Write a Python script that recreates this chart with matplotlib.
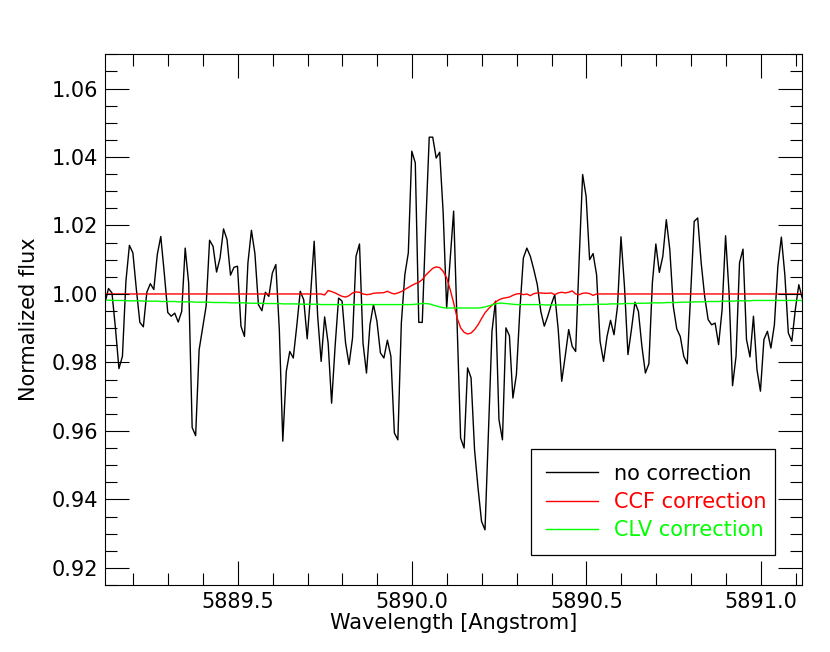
import numpy as np
import matplotlib
matplotlib.use("Agg")
import matplotlib.pyplot as plt
from matplotlib.patches import Rectangle
from matplotlib.ticker import MultipleLocator

# wavelength grid of the spectrum (Angstrom), 0.01 A sampling
wave_start = 5889.119
wave_step = 0.01
n_pix = 201
wave = wave_start + wave_step * np.arange(n_pix)

# no correction
flux_raw = [
    0.9974, 1.0016, 1.0003, 0.9900, 0.9782, 0.9818, 1.0037, 1.0142, 1.0120, 1.0013,
    0.9917, 0.9904, 1.0005, 1.0030, 1.0013, 1.0115, 1.0168, 1.0061, 0.9946, 0.9935,
    0.9944, 0.9918, 0.9949, 1.0134, 1.0032, 0.9610, 0.9586, 0.9837, 0.9901, 0.9964,
    1.0157, 1.0139, 1.0064, 1.0105, 1.0190, 1.0159, 1.0055, 1.0078, 1.0081, 0.9906,
    0.9876, 1.0091, 1.0186, 1.0118, 0.9969, 0.9951, 1.0005, 0.9993, 1.0061, 1.0086,
    0.9896, 0.9570, 0.9774, 0.9832, 0.9813, 0.9906, 1.0008, 0.9983, 0.9869, 1.0003,
    1.0154, 0.9935, 0.9803, 0.9933, 0.9857, 0.9681, 0.9847, 0.9988, 0.9979, 0.9857,
    0.9794, 0.9871, 1.0110, 1.0146, 0.9857, 0.9769, 0.9910, 0.9969, 0.9920, 0.9828,
    0.9813, 0.9865, 0.9818, 0.9594, 0.9574, 0.9915, 1.0056, 1.0120, 1.0417, 1.0383,
    0.9917, 0.9917, 1.0200, 1.0458, 1.0458, 1.0397, 1.0414, 1.0237, 0.9959, 1.0100,
    1.0242, 0.9915, 0.9579, 0.9550, 0.9784, 0.9755, 0.9545, 0.9433, 0.9336, 0.9311,
    0.9604, 0.9891, 0.9979, 0.9633, 0.9574, 0.9901, 0.9878, 0.9696, 0.9764, 0.9954,
    1.0105, 1.0134, 1.0110, 1.0071, 1.0027, 0.9949, 0.9906, 0.9935, 0.9969, 0.9998,
    0.9896, 0.9745, 0.9818, 0.9896, 0.9847, 0.9832, 1.0100, 1.0349, 1.0285, 1.0100,
    1.0118, 1.0056, 0.9862, 0.9803, 0.9876, 0.9923, 0.9881, 0.9964, 1.0167, 1.0022,
    0.9823, 0.9896, 0.9976, 0.9949, 0.9847, 0.9769, 0.9796, 1.0032, 1.0146, 1.0063,
    1.0110, 1.0217, 1.0130, 0.9964, 0.9898, 0.9876, 0.9818, 0.9796, 1.0003, 1.0212,
    1.0222, 1.0091, 0.9993, 0.9925, 0.9910, 0.9915, 0.9852, 0.9954, 1.0170, 1.0003,
    0.9732, 0.9818, 1.0091, 1.0131, 0.9867, 0.9816, 0.9935, 0.9779, 0.9716, 0.9867,
    0.9891, 0.9842, 0.9910, 1.0081, 1.0166, 1.0056, 0.9886, 0.9862, 0.9954, 1.0027,
    0.9988,
]

# CCF correction
flux_ccf = [1.0000] * 63 + [
    0.9997, 1.0010, 1.0007, 1.0003, 0.9998, 0.9993, 0.9991, 0.9995, 1.0003, 1.0006,
    1.0005, 1.0000, 0.9998, 0.9999, 1.0002, 1.0003, 1.0003, 1.0004, 1.0008, 1.0003,
    1.0000, 1.0003, 1.0007, 1.0013, 1.0019, 1.0025, 1.0030, 1.0034, 1.0042, 1.0055,
    1.0065, 1.0075, 1.0079, 1.0077, 1.0066, 1.0047, 1.0013, 0.9974, 0.9930, 0.9901,
    0.9888, 0.9883, 0.9886, 0.9896, 0.9910, 0.9928, 0.9945, 0.9957, 0.9967, 0.9976,
    0.9983, 0.9987, 0.9989, 0.9991, 0.9996, 1.0000, 1.0001, 0.9998, 1.0000, 0.9995,
    1.0001, 1.0003, 1.0003, 1.0002, 1.0002, 1.0003, 0.9998, 1.0003, 1.0005, 1.0003,
    1.0005, 1.0009, 1.0000, 0.9998, 1.0002, 1.0003, 1.0001, 0.9996,
] + [1.0000] * 60

# CLV correction
flux_clv = [
    0.9982, 0.9982, 0.9981, 0.9981, 0.9981, 0.9981, 0.9980, 0.9980, 0.9980, 0.9980,
    0.9980, 0.9979, 0.9979, 0.9979, 0.9979, 0.9979, 0.9978, 0.9978, 0.9978, 0.9978,
    0.9978, 0.9977, 0.9977, 0.9977, 0.9977, 0.9977, 0.9976, 0.9976, 0.9976, 0.9976,
    0.9976, 0.9975, 0.9975, 0.9975, 0.9975, 0.9975, 0.9974, 0.9974, 0.9974, 0.9974,
    0.9974, 0.9973, 0.9973, 0.9973, 0.9973, 0.9973, 0.9972, 0.9972, 0.9972, 0.9972,
    0.9972, 0.9971, 0.9971, 0.9971, 0.9971, 0.9971, 0.9970, 0.9970, 0.9970, 0.9970,
    0.9970, 0.9970, 0.9969, 0.9969, 0.9969, 0.9969, 0.9969, 0.9969, 0.9969, 0.9969,
    0.9969, 0.9969, 0.9969, 0.9969, 0.9969, 0.9969, 0.9969, 0.9969, 0.9969, 0.9969,
    0.9969, 0.9969, 0.9969, 0.9969, 0.9969, 0.9969, 0.9969, 0.9969, 0.9969, 0.9970,
    0.9971, 0.9972, 0.9972, 0.9971, 0.9968, 0.9965, 0.9962, 0.9960, 0.9959, 0.9959,
    0.9959, 0.9959, 0.9959, 0.9959, 0.9959, 0.9959, 0.9959, 0.9959, 0.9960, 0.9962,
    0.9965, 0.9968, 0.9971, 0.9973, 0.9973, 0.9972, 0.9971, 0.9970, 0.9969, 0.9969,
    0.9969, 0.9969, 0.9969, 0.9969, 0.9969, 0.9969, 0.9968, 0.9968, 0.9968, 0.9968,
    0.9968, 0.9968, 0.9968, 0.9968, 0.9968, 0.9968, 0.9968, 0.9969, 0.9969, 0.9969,
    0.9969, 0.9970, 0.9970, 0.9970, 0.9970, 0.9971, 0.9971, 0.9971, 0.9971, 0.9972,
    0.9972, 0.9972, 0.9972, 0.9973, 0.9973, 0.9973, 0.9973, 0.9974, 0.9974, 0.9974,
    0.9974, 0.9975, 0.9975, 0.9975, 0.9975, 0.9976, 0.9976, 0.9976, 0.9976, 0.9977,
    0.9977, 0.9977, 0.9977, 0.9978, 0.9978, 0.9978, 0.9978, 0.9979, 0.9979, 0.9979,
    0.9979, 0.9980, 0.9980, 0.9980, 0.9980, 0.9980, 0.9981, 0.9981, 0.9981, 0.9981,
    0.9981, 0.9981, 0.9981, 0.9981, 0.9981, 0.9981, 0.9981, 0.9981, 0.9981, 0.9981,
    0.9981,
]

series = [
    ("no correction", flux_raw, "black"),
    ("CCF correction", flux_ccf, "#ff0000"),
    ("CLV correction", flux_clv, "#00ff00"),
]

plt.rcParams["font.family"] = "DejaVu Sans"
plt.rcParams["font.size"] = 15

fig = plt.figure(figsize=(8.3, 6.52), dpi=100)
ax = fig.add_axes([0.1265, 0.1028, 0.8401, 0.8139])

for name, flux, col in series:
    ax.plot(wave, flux, color=col, lw=1.0, label=name)

ax.set_xlim(5889.119, 5891.119)
ax.set_ylim(0.915, 1.070)

ax.xaxis.set_major_locator(MultipleLocator(0.5))
ax.xaxis.set_minor_locator(MultipleLocator(0.1))
ax.yaxis.set_major_locator(MultipleLocator(0.02))
ax.yaxis.set_minor_locator(MultipleLocator(0.005))
ax.xaxis.set_major_formatter(plt.FormatStrFormatter("%.1f"))
ax.yaxis.set_major_formatter(plt.FormatStrFormatter("%.2f"))

ax.tick_params(which="both", direction="in", top=True, right=True, width=0.8,
               labelsize=15)
ax.tick_params(which="major", length=17, pad=5)
ax.tick_params(which="minor", length=8.5)
ax.set_axisbelow(False)
for sp in ax.spines.values():
    sp.set_linewidth(0.8)

ax.set_xlabel("Wavelength [Angstrom]", fontsize=15, labelpad=1)
ax.set_ylabel("Normalized flux", fontsize=15, labelpad=9)

# legend entries without frame; the box is drawn separately (tighter on the right)
ax.legend(loc="lower right", bbox_to_anchor=(0.9696, 0.0565),
          borderaxespad=0, frameon=False, handlelength=2.5,
          handletextpad=0.75, labelspacing=0.39, borderpad=0.72,
          labelcolor="linecolor", fontsize=15)
ax.add_patch(Rectangle((0.611, 0.0565), 0.350, 0.1997, transform=ax.transAxes,
                       facecolor="white", edgecolor="black", lw=0.9,
                       zorder=4))
ax.get_legend().set_zorder(5)

fig.savefig("out.png", dpi=100, facecolor="white")
